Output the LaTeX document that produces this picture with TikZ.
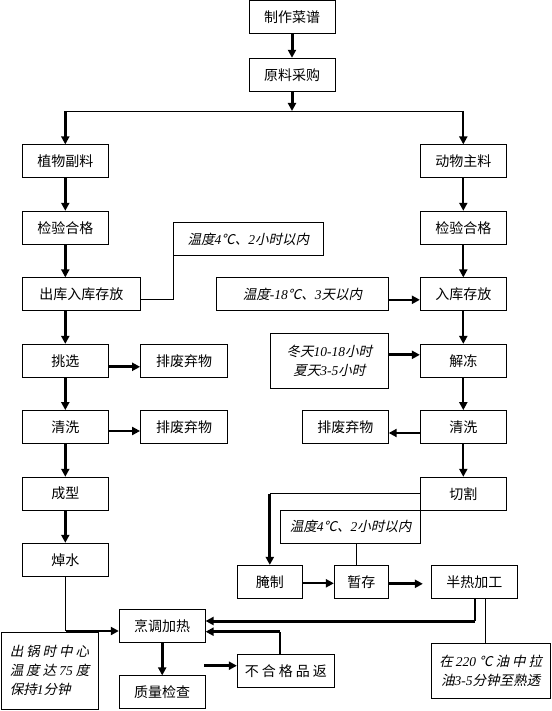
\documentclass[tikz,border=0pt]{standalone}
\usepackage{fontspec}
\setmainfont{Noto Sans CJK SC}
\newfontfamily\cjkit{Noto Sans CJK SC}[FakeSlant=0.22]
\newfontfamily\romit{Liberation Serif}
\newcommand\nb[1]{{\romit\itshape #1}}
\newcommand\csp{\kern3pt}
\usetikzlibrary{arrows.meta,calc,positioning}

\begin{document}
\begin{tikzpicture}[x=1pt,y=-1pt,
	box/.style={draw,line width=0.8pt,minimum width=86pt,minimum height=33pt,inner sep=0pt,font=\fontsize{14}{16}\selectfont},
	note/.style={box,font=\cjkit\fontsize{13.5}{19}\selectfont},
	arr/.style={-{Triangle[length=8pt,width=8pt]},line width=2pt},
	barr/.style={arr,line width=3pt},
	ln/.style={line width=0.8pt}]
		
		\useasboundingbox (0,0) rectangle (551,711);
		
		% main boxes
		\node[box] (menu) at (292,17.4) {制作菜谱};
		\node[box] (buy) at (292,74.7) {原料采购};
		\node[box] (veg) at (65.3,161.3) {植物副料};
		\node[box] (meat) at (463.3,161.3) {动物主料};
		\node[box] (chk1) at (65.3,227.7) {检验合格};
		\node[box] (chk2) at (463.3,227.7) {检验合格};
		\node[box,minimum width=118pt] (out) at (81.3,294.3) {出库入库存放};
		\node[box] (store) at (463.3,294.3) {入库存放};
		\node[box] (pick) at (65.3,360.8) {挑选};
		\node[box,minimum width=87pt] (waste1) at (184,360.8) {排废弃物};
		\node[box] (thaw) at (463.3,360.8) {解冻};
		\node[box] (wash1) at (65.3,427) {清洗};
		\node[box,minimum width=87pt] (waste2) at (184,427) {排废弃物};
		\node[box] (waste3) at (345.3,427) {排废弃物};
		\node[box] (wash2) at (463.3,427) {清洗};
		\node[box] (shape) at (65.3,493.7) {成型};
		\node[box] (cut) at (463.3,493.7) {切割};
		\node[box] (blanch) at (65.3,559.7) {焯水};
		\node[box,minimum width=65pt] (marinate) at (269.8,581.8) {腌制};
		\node[box,minimum width=54pt] (hold) at (361.3,581.8) {暂存};
		\node[box] (semi) at (474.3,581.8) {半热加工};
		\node[box] (cook) at (162.2,626.3) {烹调加热};
		\node[box,minimum width=97pt] (reject) at (285.8,670.7) {不\csp 合\csp 格\csp 品\csp 返};
		\node[box] (check) at (162.2,692.3) {质量检查};
		
		% notes
		\node[note,minimum width=150pt] (cold1) at (248.3,239) {温度\nb{4}℃、\nb{2}小时以内};
		\node[note,minimum width=172pt] (frz) at (302.5,294.3) {温度\nb{-18}℃、\nb{3}天以内};
		\node[note,minimum width=118pt,minimum height=55pt,align=center] (thawt) at (329.3,360.8) {冬天\nb{10-18}小时\\夏天\nb{3-5}小时};
		\node[note,minimum width=140pt] (cold2) at (350.5,526.7) {温度\nb{4}℃、\nb{2}小时以内};
		\node[note,minimum width=97pt,minimum height=77pt,align=left] (core) at (49.5,670.7) {出\csp 锅\csp 时\csp 中\csp 心\\温\csp 度\csp 达\csp\nb{75}\csp 度\\保持\nb{1}分钟};
		\node[note,minimum width=119pt,minimum height=55pt,align=center] (fry) at (490.7,670.8) {在\csp\nb{220}\csp ℃\csp 油\csp 中\csp 拉\\油\nb{3-5}分钟至熟透};
		
		% split
		\coordinate (sl) at (65.3,111);
		\coordinate (sr) at (463.3,111);
		\coordinate (split) at (292,111);
		\draw[ln] (sl) -- (sr);
		\draw[barr] (menu) -- (buy);
		\draw[barr] (buy) -- (split);
		\draw[barr] (sl) -- (veg);
		\draw[arr] (sr) -- (meat);
		
		% columns
		\foreach \a/\b in {veg/chk1,chk1/out,out/pick,pick/wash1,wash1/shape,shape/blanch}
			\draw[barr] (\a.south -| sl) -- (\b.north -| sl);
		\foreach \a/\b in {meat/chk2,chk2/store,store/thaw,thaw/wash2,wash2/cut}
			\draw[arr] (\a) -- (\b);
		
		% side branches
		\draw[ln] ([yshift=-5pt]out.east) -| (cold1.south west);
		\draw[arr] ([yshift=-5.5pt]frz.east) -- ([yshift=-5.5pt]store.west);
		\draw[barr] ([yshift=6pt]thawt.east) -- ([yshift=6pt]thaw.west);
		\draw[barr] ([yshift=-6pt]pick.east) -- ([yshift=-6pt]waste1.west);
		\draw[arr] ([yshift=-4pt]wash1.east) -- ([yshift=-4pt]waste2.west);
		\draw[arr] ([yshift=-6pt]wash2.west) -- ([yshift=-6pt]waste3.east);
		
		% meat line
		\coordinate (bend) at (marinate |- cut);
		\draw[ln] (cut.west) -- (bend);
		\draw[barr] (bend) -- (marinate);
		\draw[ln] ([xshift=-4.5pt]hold.north) -- ([xshift=-4.5pt]hold.north |- cold2.south);
		\draw[arr] ([yshift=-1.5pt]marinate.east) -- ([yshift=-1.5pt]hold.west);
		\draw[barr,shorten >=8pt] ([yshift=-2pt]hold.east) -- ([yshift=-2pt]semi.west);
		
		% to cooking
		\coordinate (c1) at (475,621);
		\draw[line width=1.5pt] (semi.south -| c1) -- (c1);
		\draw[barr] (c1) -- (cook.east |- c1);
		\coordinate (c2) at (485.3,650);
		\draw[ln] (semi.south -| c2) -- (fry.north -| c2);
		\coordinate (c3) at (280,631.7);
		\draw[line width=1.5pt] (reject.north -| c3) -- (c3);
		\draw[barr] (c3) -- (cook.east |- c3);
		\coordinate (c4) at (65.7,631);
		\draw[ln] (blanch.south -| c4) -- (c4);
		\draw[arr] (c4) -- (cook.west |- c4);
		\draw[barr] (cook) -- (check);
		\coordinate (qs) at (204,665.7);
		\draw[barr] (qs) -- (reject.west |- qs);
	\end{tikzpicture}
\end{document}
